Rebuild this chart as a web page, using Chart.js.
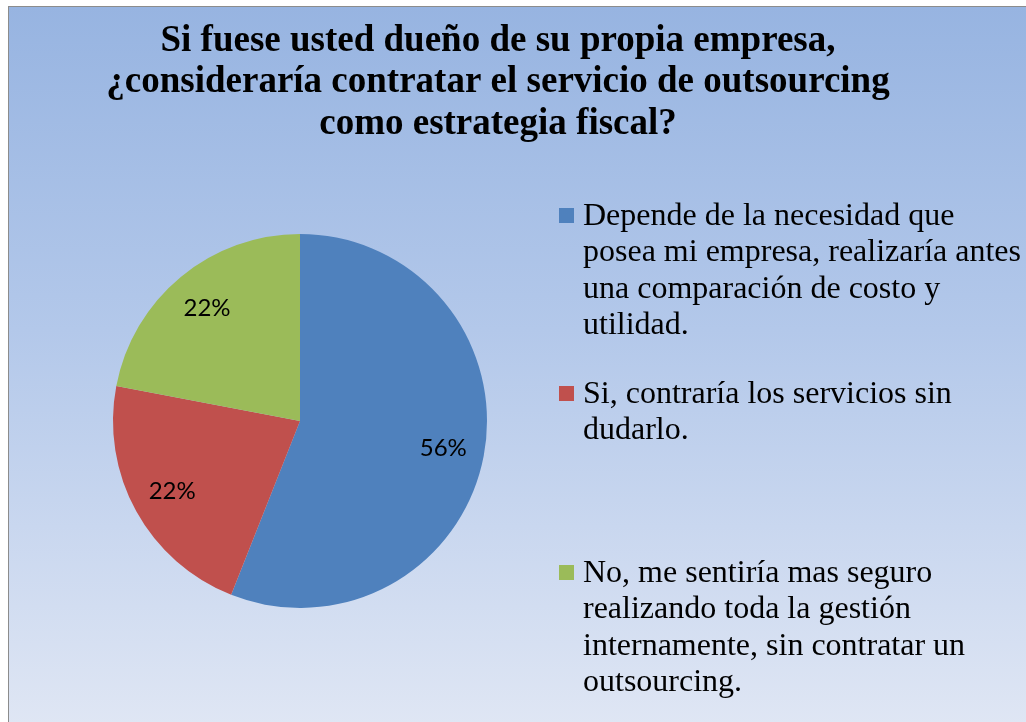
<!DOCTYPE html>
<html>
<head>
<meta charset="utf-8">
<script src="https://cdn.jsdelivr.net/npm/chart.js@4/dist/chart.umd.min.js"></script>
<style>
  html, body { margin: 0; padding: 0; background: #ffffff; }
  #wrap { position: relative; width: 1026px; height: 722px; overflow: hidden; }
  #bg { position: absolute; left: 8px; top: 6px; right: -2px; bottom: -2px;
        border-left: 1px solid #8c8c8c; border-top: 1px solid #8c8c8c;
        background: linear-gradient(to bottom, #97b4e1 0%, #b3c8ea 45%, #dfe6f4 100%); }
  #c { position: absolute; left: 0; top: 0; }
</style>
</head>
<body>
<div id="wrap">
  <div id="bg"></div>
  <canvas id="c" width="1026" height="722"></canvas>
</div>
<script>
// ---- data ----
const titleLines = [
  "Si fuese usted dueño de su propia empresa,",
  "¿consideraría contratar el servicio de outsourcing",
  "como estrategia fiscal?"
];
const categories = [
  ["Depende de la necesidad que", "posea mi empresa, realizaría antes", "una comparación de costo y", "utilidad."],
  ["Si, contraría los servicios sin", "dudarlo."],
  ["No, me sentiría mas seguro", "realizando toda la gestión", "internamente, sin contratar un", "outsourcing."]
];
const values = [56, 22, 22];
const colors = ["#4f81bd", "#c0504d", "#9bbb59"];

// ---- layout (positions / styles) ----
const layoutCfg = {
  titleX: 498, titleBaselines: [51, 92, 134],
  titleFont: "bold 37px 'Liberation Serif', 'Times New Roman', serif",
  legendSquareX: 559, legendTextX: 583, legendSquare: 15,
  legendFirstBaselines: [225, 403, 582], legendLineGap: 36.3,
  legendFont: "32px 'Liberation Serif', 'Times New Roman', serif",
  labelFont: "24px Lato, 'Open Sans', sans-serif",
  labelRadiusFactor: 0.78
};

const textPlugin = {
  id: 'textPlugin',
  afterDraw(chart) {
    const ctx = chart.ctx;
    ctx.save();
    // title
    ctx.fillStyle = '#000';
    ctx.font = layoutCfg.titleFont;
    ctx.textAlign = 'center';
    ctx.textBaseline = 'alphabetic';
    titleLines.forEach((t, i) => ctx.fillText(t, layoutCfg.titleX, layoutCfg.titleBaselines[i]));
    // legend
    ctx.textAlign = 'left';
    ctx.font = layoutCfg.legendFont;
    const labels = chart.data.labels;
    const bg = chart.data.datasets[0].backgroundColor;
    labels.forEach((lines, i) => {
      const b0 = layoutCfg.legendFirstBaselines[i];
      ctx.fillStyle = bg[i];
      ctx.fillRect(layoutCfg.legendSquareX, b0 - 17, layoutCfg.legendSquare, layoutCfg.legendSquare);
      ctx.fillStyle = '#000';
      lines.forEach((ln, j) => ctx.fillText(ln, layoutCfg.legendTextX, b0 + j * layoutCfg.legendLineGap));
    });
    // data labels
    const meta = chart.getDatasetMeta(0);
    const data = chart.data.datasets[0].data;
    const total = data.reduce((a, b) => a + b, 0);
    ctx.font = layoutCfg.labelFont;
    ctx.textAlign = 'center';
    ctx.textBaseline = 'middle';
    ctx.fillStyle = '#000';
    meta.data.forEach((arc, i) => {
      const p = arc.getProps(['x', 'y', 'startAngle', 'endAngle', 'outerRadius'], true);
      const mid = (p.startAngle + p.endAngle) / 2;
      const r = p.outerRadius * layoutCfg.labelRadiusFactor;
      const txt = Math.round(data[i] / total * 100) + '%';
      ctx.fillText(txt, p.x + Math.cos(mid) * r, p.y + Math.sin(mid) * r);
    });
    ctx.restore();
  }
};

new Chart(document.getElementById('c'), {
  type: 'pie',
  data: {
    labels: categories,
    datasets: [{ data: values, backgroundColor: colors, borderWidth: 0, hoverOffset: 0 }]
  },
  options: {
    responsive: false,
    maintainAspectRatio: false,
    animation: false,
    layout: { padding: { left: 113, top: 234, right: 539, bottom: 114 } },
    plugins: { legend: { display: false }, title: { display: false }, tooltip: { enabled: false } }
  },
  plugins: [textPlugin]
});
</script>
</body>
</html>
